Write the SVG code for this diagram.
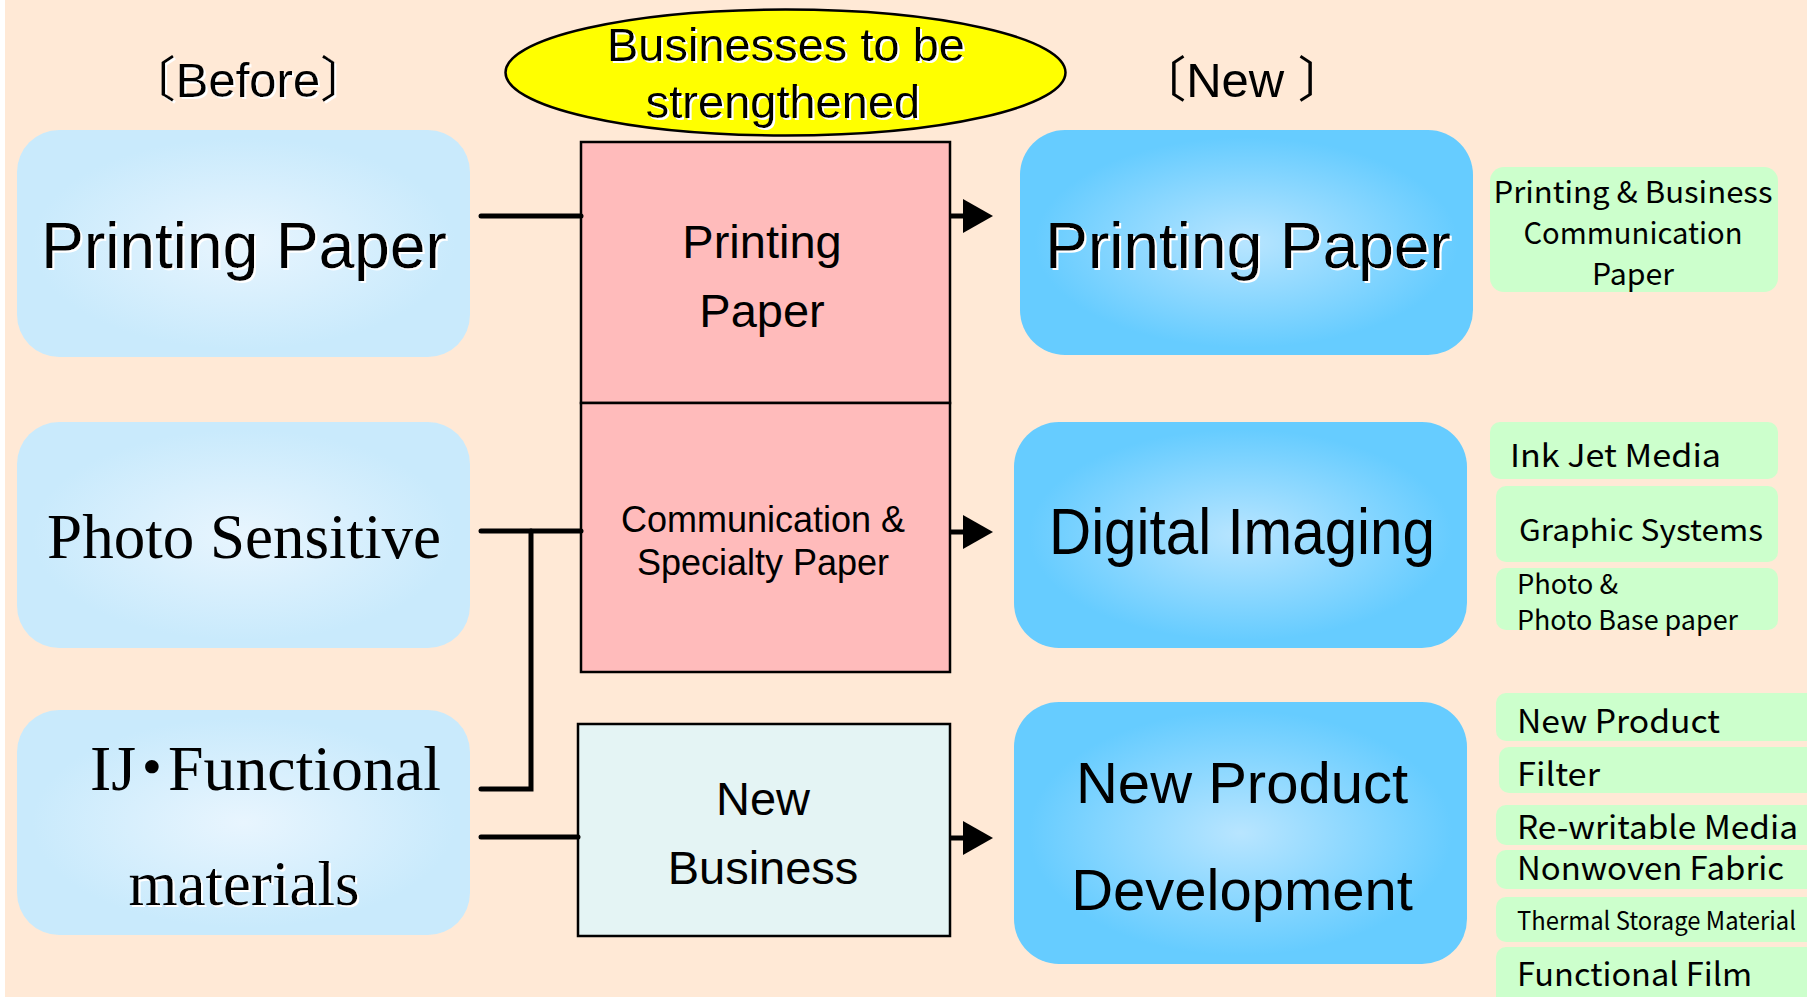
<svg xmlns="http://www.w3.org/2000/svg" width="1807" height="997" viewBox="0 0 1807 997">
  <style>
    .sans { font-family: "Liberation Sans", Arial, "Noto Sans CJK JP", sans-serif; fill: #000; }
    .serif { font-family: "Liberation Serif", "Times New Roman", "Noto Sans CJK JP", serif; fill: #000; }
    .goth { font-family: "Noto Sans CJK JP", "Noto Sans", sans-serif; fill: #000; }
    .mid { text-anchor: middle; }
    .lbox { fill: url(#gLeft); }
    .rbox { fill: url(#gRight); }
    .green { fill: #CCFFCC; }
    .wire { stroke: #000; stroke-width: 5; fill: none; stroke-linecap: round; }
    .shaft { stroke: #000; stroke-width: 5; fill: none; }
    .head { fill: #000; }
    .outline { stroke: #000; stroke-width: 2.5; }
    .sh { filter: url(#whiteShadow); }
    .palt { font-family: "Noto Sans CJK JP", sans-serif; font-feature-settings: "palt"; }
  </style>
  <defs>
    <radialGradient id="gLeft" cx="50%" cy="50%" r="55%">
      <stop offset="0" stop-color="#E8F5FE"/>
      <stop offset="0.85" stop-color="#C9EAFC"/>
    </radialGradient>
    <radialGradient id="gRight" cx="50%" cy="50%" r="55%">
      <stop offset="0" stop-color="#B8E5FF"/>
      <stop offset="0.85" stop-color="#66CCFF"/>
    </radialGradient>
    <filter id="whiteShadow" x="-5%" y="-20%" width="110%" height="140%">
      <feDropShadow dx="2" dy="2" stdDeviation="0" flood-color="#FFFFFF" flood-opacity="1"/>
    </filter>
  </defs>

  <!-- page -->
  <rect x="0" y="0" width="1807" height="997" fill="#FFE9D6"/>
  <rect x="0" y="0" width="5" height="997" fill="#FFFFFF"/>

  <!-- column headings -->
  <g id="heading-before">
    <text class="sans mid sh" x="248" y="97" font-size="49">〔Before〕</text>
  </g>
  <g id="heading-new">
    <text class="sans mid" x="1242" y="97" font-size="49">〔New 〕</text>
  </g>
  <g id="heading-strengthen">
    <ellipse cx="785.5" cy="72.5" rx="280" ry="63" fill="#FFFF00" stroke="#000" stroke-width="2.5"/>
    <text class="sans mid sh" x="786" y="61" font-size="47">Businesses to be</text>
    <text class="sans mid sh" x="783" y="118" font-size="47">strengthened</text>
  </g>

  <!-- left column: former businesses -->
  <g id="before-printing">
    <rect class="lbox" x="17" y="130" width="453" height="227" rx="42"/>
    <text class="sans mid sh" x="244" y="268" font-size="64">Printing Paper</text>
  </g>
  <g id="before-photo">
    <rect class="lbox" x="17" y="422" width="453" height="226" rx="42"/>
    <text class="serif mid" x="244" y="558" font-size="63">Photo Sensitive</text>
  </g>
  <g id="before-ij">
    <rect class="lbox" x="17" y="710" width="453" height="225" rx="42"/>
    <text class="serif" x="90" y="790" font-size="63" textLength="351" lengthAdjust="spacingAndGlyphs">IJ<tspan class="palt">・</tspan>Functional</text>
    <text class="serif mid sh" x="244" y="905" font-size="63">materials</text>
  </g>

  <!-- centre column: businesses to be strengthened -->
  <g id="mid-printing">
    <rect x="581" y="142" width="369" height="261" fill="#FFBBBB" class="outline"/>
    <text class="sans mid" x="762" y="258" font-size="47">Printing</text>
    <text class="sans mid" x="762" y="327" font-size="47">Paper</text>
  </g>
  <g id="mid-specialty">
    <rect x="581" y="403" width="369" height="269" fill="#FFBBBB" class="outline"/>
    <text class="sans mid" x="763" y="532" font-size="36">Communication &amp;</text>
    <text class="sans mid" x="763" y="575" font-size="36">Specialty Paper</text>
  </g>
  <g id="mid-new-business">
    <rect x="578" y="724" width="372" height="212" fill="#E4F4F4" class="outline"/>
    <text class="sans mid" x="763" y="815" font-size="47">New</text>
    <text class="sans mid" x="763" y="884" font-size="47">Business</text>
  </g>

  <!-- right column: new structure -->
  <g id="new-printing">
    <rect class="rbox" x="1020" y="130" width="453" height="225" rx="45"/>
    <text class="sans mid sh" x="1248" y="268" font-size="64">Printing Paper</text>
  </g>
  <g id="new-digital">
    <rect class="rbox" x="1014" y="422" width="453" height="226" rx="45"/>
    <text class="sans mid" x="1242" y="554" font-size="64" textLength="386" lengthAdjust="spacingAndGlyphs">Digital Imaging</text>
  </g>
  <g id="new-development">
    <rect class="rbox" x="1014" y="702" width="453" height="262" rx="45"/>
    <text class="sans mid" x="1242" y="803" font-size="58">New Product</text>
    <text class="sans mid" x="1242" y="910" font-size="58">Development</text>
  </g>

  <!-- product tags -->
  <g id="tag-printing-business">
    <rect class="green" x="1490" y="167" width="288" height="125" rx="14"/>
    <text class="goth mid" x="1633" y="203" font-size="30" textLength="279" lengthAdjust="spacingAndGlyphs">Printing &amp; Business</text>
    <text class="goth mid" x="1633" y="244" font-size="30" textLength="219" lengthAdjust="spacingAndGlyphs">Communication</text>
    <text class="goth mid" x="1633" y="285" font-size="30" textLength="82" lengthAdjust="spacingAndGlyphs">Paper</text>
  </g>
  <g id="tag-inkjet">
    <rect class="green" x="1490" y="422" width="288" height="57" rx="10"/>
    <text class="goth" x="1510" y="467" font-size="31" textLength="211" lengthAdjust="spacingAndGlyphs">Ink Jet Media</text>
  </g>
  <g id="tag-graphic">
    <rect class="green" x="1496" y="486" width="282" height="76" rx="10"/>
    <text class="goth" x="1519" y="541" font-size="30" textLength="244" lengthAdjust="spacingAndGlyphs">Graphic Systems</text>
  </g>
  <g id="tag-photo">
    <rect class="green" x="1496" y="568" width="282" height="62" rx="10"/>
    <text class="goth" x="1517" y="594" font-size="27" textLength="101" lengthAdjust="spacingAndGlyphs">Photo &amp;</text>
    <text class="goth" x="1517" y="630" font-size="27" textLength="221" lengthAdjust="spacingAndGlyphs">Photo Base paper</text>
  </g>
  <g id="tag-new-product">
    <rect class="green" x="1496" y="693" width="320" height="48" rx="10"/>
    <text class="goth" x="1517" y="733" font-size="32" textLength="203" lengthAdjust="spacingAndGlyphs">New Product</text>
  </g>
  <g id="tag-filter">
    <rect class="green" x="1499" y="747" width="320" height="46" rx="10"/>
    <text class="goth" x="1517" y="786" font-size="32" textLength="83" lengthAdjust="spacingAndGlyphs">Filter</text>
  </g>
  <g id="tag-rewritable">
    <rect class="green" x="1496" y="805" width="320" height="40" rx="10"/>
    <text class="goth" x="1517" y="839" font-size="32" textLength="281" lengthAdjust="spacingAndGlyphs">Re-writable Media</text>
  </g>
  <g id="tag-nonwoven">
    <rect class="green" x="1496" y="850" width="320" height="39" rx="10"/>
    <text class="goth" x="1517" y="880" font-size="32" textLength="267" lengthAdjust="spacingAndGlyphs">Nonwoven Fabric</text>
  </g>
  <g id="tag-thermal">
    <rect class="green" x="1496" y="897" width="320" height="45" rx="10"/>
    <text class="goth" x="1517" y="930" font-size="25" textLength="279" lengthAdjust="spacingAndGlyphs">Thermal Storage Material</text>
  </g>
  <g id="tag-film">
    <rect class="green" x="1496" y="947" width="320" height="60" rx="10"/>
    <text class="goth" x="1517" y="986" font-size="32" textLength="235" lengthAdjust="spacingAndGlyphs">Functional Film</text>
  </g>

  <!-- connectors -->
  <g id="connectors">
    <path class="wire" d="M481 216 H581"/>
    <path class="wire" d="M481 531 H581"/>
    <path class="wire" d="M481 789 H531 V531"/>
    <path class="wire" d="M481 837 H578"/>
    <path class="shaft" d="M950 216 H965"/>
    <polygon class="head" points="963,199 993,216 963,233"/>
    <path class="shaft" d="M950 532 H965"/>
    <polygon class="head" points="963,515 993,532 963,549"/>
    <path class="shaft" d="M950 838 H965"/>
    <polygon class="head" points="963,821 993,838 963,855"/>
  </g>
</svg>
